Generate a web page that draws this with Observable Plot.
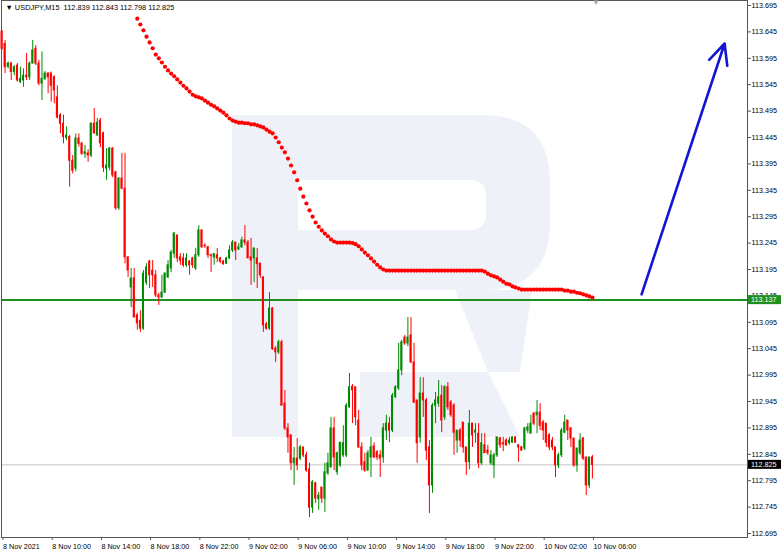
<!DOCTYPE html>
<html><head><meta charset="utf-8">
<script src="https://cdn.jsdelivr.net/npm/d3@7"></script>
<script src="https://cdn.jsdelivr.net/npm/@observablehq/plot@0.6"></script>
<style>
html,body{margin:0;padding:0;background:#fff;}
#chart{width:782px;height:553px;overflow:hidden;}
</style></head><body><div id="chart"></div>
<script>
const symbol = "USDJPY,M15";
const startTime = "2021-11-08T06:00:00Z";
const barMinutes = 15;

const open = [113.645,113.622,113.579,113.585,113.569,113.581,113.550,113.553,113.562,113.559,
113.585,113.613,113.585,113.547,113.556,113.566,113.566,113.559,113.521,113.487,
113.471,113.444,113.446,113.401,113.386,113.443,113.433,113.414,113.415,113.411,
113.471,113.449,113.477,113.453,113.386,113.388,113.424,113.379,113.311,113.367,
113.348,113.218,113.161,113.178,113.108,113.098,113.083,113.170,113.210,113.193,
113.184,113.146,113.142,113.151,113.180,113.197,113.225,113.259,113.218,113.216,
113.203,113.210,113.216,113.197,113.222,113.269,113.240,113.237,113.222,113.218,
113.222,113.216,113.210,113.206,113.216,113.231,113.246,113.233,113.237,113.250,
113.246,113.218,113.216,113.216,113.206,113.180,113.091,113.083,113.121,113.045,
113.038,113.057,112.941,112.894,112.881,112.828,112.837,112.837,112.858,112.843,
112.816,112.744,112.790,112.760,112.782,112.761,112.809,112.820,112.894,112.811,
112.824,112.843,112.843,112.934,112.973,112.972,112.909,112.858,112.830,112.814,
112.839,112.860,112.849,112.843,112.839,112.890,112.903,112.890,112.953,112.970,
113.004,113.066,113.055,113.070,113.019,112.947,112.877,112.960,112.947,112.858,
112.786,112.937,112.941,112.956,112.915,112.972,112.943,112.937,112.871,112.890,
112.905,112.858,112.830,112.903,112.886,112.884,112.828,112.862,112.852,112.828,
112.824,112.843,112.875,112.866,112.871,112.866,112.867,112.877,112.862,112.858,
112.856,112.890,112.884,112.922,112.919,112.924,112.905,112.903,112.881,112.871,
112.858,112.824,112.843,112.886,112.909,112.894,112.875,112.824,112.847,112.875,
112.839,112.786,112.839];
const high = [113.648,113.629,113.588,113.587,113.581,113.585,113.578,113.575,113.604,113.588,
113.629,113.619,113.591,113.607,113.570,113.568,113.569,113.562,113.543,113.490,
113.487,113.465,113.449,113.411,113.452,113.452,113.436,113.430,113.422,113.473,
113.500,113.481,113.481,113.455,113.424,113.426,113.426,113.381,113.369,113.415,
113.415,113.219,113.197,113.197,113.112,113.117,113.193,113.206,113.212,113.212,
113.193,113.150,113.184,113.189,113.212,113.231,113.265,113.261,113.225,113.225,
113.225,113.212,113.218,113.235,113.278,113.270,113.244,113.239,113.224,113.225,
113.235,113.218,113.212,113.218,113.240,113.250,113.246,113.244,113.256,113.278,
113.250,113.254,113.235,113.235,113.207,113.181,113.095,113.151,113.123,113.049,
113.061,113.061,112.966,112.903,112.881,112.858,112.875,112.862,112.858,112.849,
112.828,112.795,112.792,112.773,112.782,112.828,112.847,112.915,112.915,112.849,
112.867,112.899,112.941,112.998,112.977,112.972,112.928,112.867,112.847,112.852,
112.877,112.867,112.852,112.852,112.903,112.919,112.915,112.960,112.975,113.055,
113.061,113.070,113.104,113.104,113.055,112.947,112.990,112.990,112.951,112.871,
112.941,112.962,112.985,112.975,112.975,112.981,112.947,112.941,112.890,112.894,
112.905,112.858,112.928,112.903,112.903,112.903,112.884,112.884,112.862,112.852,
112.847,112.877,112.877,112.877,112.875,112.877,112.877,112.877,112.862,112.860,
112.896,112.903,112.919,112.924,112.947,112.941,112.909,112.903,112.884,112.877,
112.858,112.847,112.894,112.919,112.909,112.896,112.875,112.856,112.884,112.877,
112.839,112.839,112.843];
const low = [113.610,113.566,113.575,113.553,113.562,113.550,113.547,113.540,113.553,113.553,
113.584,113.581,113.543,113.515,113.553,113.528,113.512,113.509,113.480,113.452,
113.433,113.439,113.351,113.376,113.380,113.427,113.411,113.405,113.398,113.407,
113.451,113.447,113.426,113.379,113.364,113.382,113.369,113.307,113.307,113.346,
113.206,113.180,113.123,113.104,113.080,113.076,113.080,113.165,113.159,113.161,
113.142,113.127,113.140,113.150,113.178,113.189,113.216,113.208,113.203,113.199,
113.199,113.184,113.197,113.193,113.218,113.235,113.235,113.216,113.189,113.203,
113.208,113.206,113.203,113.205,113.214,113.227,113.212,113.231,113.235,113.240,
113.216,113.165,113.170,113.159,113.178,113.076,113.080,113.080,113.042,113.019,
113.034,112.937,112.890,112.847,112.814,112.786,112.814,112.833,112.839,112.811,
112.725,112.733,112.752,112.739,112.752,112.735,112.805,112.820,112.814,112.805,
112.820,112.839,112.839,112.932,112.903,112.899,112.856,112.814,112.811,112.814,
112.801,112.837,112.833,112.801,112.828,112.871,112.867,112.886,112.951,112.966,
112.994,113.051,113.049,113.017,112.941,112.828,112.866,112.915,112.833,112.733,
112.771,112.903,112.934,112.886,112.909,112.928,112.915,112.843,112.847,112.858,
112.847,112.805,112.816,112.858,112.866,112.818,112.824,112.847,112.843,112.824,
112.799,112.839,112.856,112.850,112.860,112.862,112.866,112.866,112.830,112.851,
112.852,112.884,112.884,112.899,112.884,112.890,112.871,112.858,112.852,112.852,
112.801,112.818,112.839,112.884,112.871,112.858,112.820,112.811,112.843,112.833,
112.767,112.780,112.798];
const close = [113.613,113.578,113.585,113.569,113.578,113.553,113.556,113.562,113.559,113.585,
113.610,113.585,113.547,113.556,113.566,113.559,113.543,113.534,113.483,113.471,
113.446,113.449,113.401,113.382,113.443,113.433,113.414,113.417,113.411,113.471,
113.453,113.473,113.434,113.388,113.392,113.424,113.373,113.311,113.367,113.348,
113.218,113.193,113.178,113.104,113.093,113.083,113.187,113.199,113.184,113.184,
113.146,113.142,113.151,113.187,113.203,113.227,113.263,113.216,113.212,113.203,
113.216,113.203,113.203,113.222,113.269,113.237,113.239,113.222,113.221,113.224,
113.216,113.210,113.205,113.216,113.231,113.246,113.231,113.237,113.250,113.246,
113.216,113.212,113.235,113.205,113.184,113.089,113.083,113.121,113.044,113.038,
113.057,112.937,112.894,112.877,112.828,112.837,112.824,112.858,112.843,112.814,
112.744,112.792,112.761,112.767,112.761,112.811,112.828,112.894,112.839,112.847,
112.867,112.866,112.937,112.972,112.966,112.915,112.858,112.824,112.814,112.847,
112.858,112.839,112.839,112.837,112.894,112.903,112.890,112.956,112.972,113.004,
113.057,113.055,113.066,113.019,112.943,112.866,112.960,112.947,112.852,112.786,
112.937,112.947,112.953,112.909,112.972,112.934,112.919,112.886,112.890,112.871,
112.858,112.830,112.903,112.881,112.890,112.828,112.866,112.847,112.847,112.843,
112.843,112.877,112.862,112.864,112.862,112.871,112.877,112.867,112.858,112.852,
112.894,112.896,112.903,112.903,112.924,112.899,112.890,112.867,112.858,112.858,
112.824,112.843,112.890,112.905,112.890,112.875,112.824,112.856,112.871,112.837,
112.786,112.839,112.825];

// red dotted indicator, one value per bar starting at bar maStart
const maStart = 44;
const maValues = [113.670,113.659,113.648,113.636,113.625,113.614,113.602,113.595,113.587,113.579,
113.572,113.566,113.561,113.555,113.549,113.543,113.538,113.532,113.526,113.523,
113.521,113.519,113.515,113.511,113.507,113.504,113.500,113.496,113.492,113.487,
113.481,113.477,113.475,113.473,113.473,113.472,113.472,113.470,113.470,113.468,
113.466,113.464,113.460,113.456,113.453,113.445,113.436,113.426,113.417,113.405,
113.392,113.379,113.364,113.348,113.333,113.320,113.307,113.295,113.284,113.276,
113.269,113.263,113.258,113.252,113.248,113.246,113.246,113.246,113.246,113.246,
113.245,113.243,113.239,113.233,113.227,113.222,113.216,113.210,113.204,113.199,
113.195,113.193,113.193,113.193,113.193,113.193,113.193,113.193,113.193,113.193,
113.193,113.193,113.193,113.193,113.193,113.193,113.193,113.193,113.193,113.193,
113.193,113.193,113.193,113.193,113.193,113.193,113.193,113.193,113.193,113.193,
113.193,113.193,113.193,113.191,113.187,113.184,113.182,113.180,113.176,113.172,
113.168,113.167,113.163,113.161,113.159,113.157,113.157,113.157,113.157,113.157,
113.157,113.157,113.157,113.157,113.157,113.157,113.157,113.157,113.157,113.155,
113.155,113.153,113.153,113.151,113.150,113.148,113.146,113.144,113.142];

const supportLevel = 113.137;
const lastPrice = 112.825;
const arrowBars = [208, 235];
const arrowPrices = [113.148, 113.623];

const yTicks = [112.695,112.745,112.795,112.845,112.895,112.945,112.995,113.045,113.095,113.145,
113.195,113.245,113.295,113.345,113.395,113.445,113.495,113.545,113.595,113.645,113.695];
const xTickTimes = ["2021-11-08T06:00:00Z","2021-11-08T10:00:00Z","2021-11-08T14:00:00Z","2021-11-08T18:00:00Z",
"2021-11-08T22:00:00Z","2021-11-09T02:00:00Z","2021-11-09T06:00:00Z","2021-11-09T10:00:00Z","2021-11-09T14:00:00Z",
"2021-11-09T18:00:00Z","2021-11-09T22:00:00Z","2021-11-10T02:00:00Z","2021-11-10T06:00:00Z"];
const xTickLabels = ["8 Nov 2021","8 Nov 10:00","8 Nov 14:00","8 Nov 18:00","8 Nov 22:00","9 Nov 02:00",
"9 Nov 06:00","9 Nov 10:00","9 Nov 14:00","9 Nov 18:00","9 Nov 22:00","10 Nov 02:00","10 Nov 06:00"];

const UP = "#008a00", DOWN = "#ff0000";
const t0 = new Date(startTime).getTime();
const tAt = b => new Date(t0 + b * barMinutes * 60000);

const candles = open.map((o, i) => ({
  t: tAt(i), t1: tAt(i - 0.33), t2: tAt(i + 0.33),
  o, h: high[i], l: low[i], c: close[i], up: close[i] >= o
}));
const ma = maValues.map((v, k) => ({t: tAt(maStart + k), v}));
const arrowData = [{x1: tAt(arrowBars[0]), y1: arrowPrices[0], x2: tAt(arrowBars[1]), y2: arrowPrices[1]}];
const tickDates = xTickTimes.map(s => new Date(s));
const labelMap = new Map(tickDates.map((d, i) => [+d, xTickLabels[i]]));
const last = candles[candles.length - 1];
const header = `▼ ${symbol}  ${last.o.toFixed(3)} ${last.h.toFixed(3)} ${last.l.toFixed(3)} ${last.c.toFixed(3)}`;

const FONT = "'Liberation Sans', Arial, sans-serif";
const W = 782, H = 553;
const plot = Plot.plot({
  width: W, height: H,
  marginLeft: 1, marginRight: 35, marginTop: 0, marginBottom: 16,
  style: {fontFamily: FONT, fontSize: "7.2px", color: "#000", background: "#fff"},
  x: {type: "utc", domain: [tAt(-0.163), tAt(242.44)]},
  y: {domain: [112.68742, 113.70447]},
  marks: [
    Plot.ruleY([lastPrice], {stroke: "#c4c4c4", strokeWidth: 1}),
    Plot.ruleY([supportLevel], {stroke: "#1f8f1f", strokeWidth: 2}),
    Plot.ruleX(candles, {x: "t", y1: "l", y2: "h", stroke: d => d.up ? UP : DOWN, strokeWidth: 1}),
    Plot.rect(candles, {x1: "t1", x2: "t2", y1: "o", y2: "c", fill: d => d.up ? UP : DOWN, insetTop: -0.5, insetBottom: -0.5}),
    Plot.dot(ma, {x: "t", y: "v", r: 2.1, fill: "#ff0000", stroke: "none"}),
    Plot.arrow(arrowData, {x1: "x1", y1: "y1", x2: "x2", y2: "y2", stroke: "#1414d4", strokeWidth: 2.6, headLength: 13, headAngle: 50}),
    Plot.axisY(yTicks, {anchor: "right", tickSize: 3, tickPadding: 1, tickFormat: d => d.toFixed(3), label: null, stroke: "#555"}),
    Plot.axisX(tickDates, {anchor: "bottom", tickSize: 3, tickPadding: 3, tickFormat: d => labelMap.get(+d), textAnchor: "start", dx: 1, label: null, stroke: "#555"}),
    Plot.frame({stroke: "#555", strokeWidth: 1}),
    Plot.text([header], {frameAnchor: "top-left", dx: 4, dy: 4, lineAnchor: "top", fontSize: 7.4, fill: "#000"})
  ]
});
document.getElementById("chart").appendChild(plot);

// decorations: watermark logo behind the marks, price labels on the right axis
const svg = d3.select(plot);
const ys = plot.scale("y");
const bg = svg.insert("g", ":nth-child(2)").attr("fill", "#eef1f8").attr("stroke", "none");
bg.append("path").attr("fill-rule", "evenodd").attr("d",
  "M232,115 H482 Q550,115 550,183 V222 Q550,290 482,290 H298 V437 H232 Z " +
  "M298,180 H470 Q486,180 486,196 V214 Q486,230 470,230 H298 Z");
bg.append("path").attr("d", "M455,290 H532 L520,372 L488,372 Z");
bg.append("path").attr("d", "M360,372 H488 L520,437 H360 Z");

const boxes = [{v: supportLevel, fill: "#1f8f1f"}, {v: lastPrice, fill: "#000"}];
for (const b of boxes) {
  const y = ys.apply(b.v);
  svg.append("rect").attr("x", 748).attr("y", y - 4.5).attr("width", 33).attr("height", 9).attr("fill", b.fill);
  svg.append("text").attr("x", 751).attr("y", y + 2.6).attr("fill", "#fff").attr("text-anchor", "start")
    .attr("font-size", 7.2).attr("font-family", FONT).text(b.v.toFixed(3));
}
svg.append("text").attr("x", 596).attr("y", 5).attr("text-anchor", "middle").attr("fill", "#aaa")
  .attr("font-size", 8).text("▼");
</script></body></html>
